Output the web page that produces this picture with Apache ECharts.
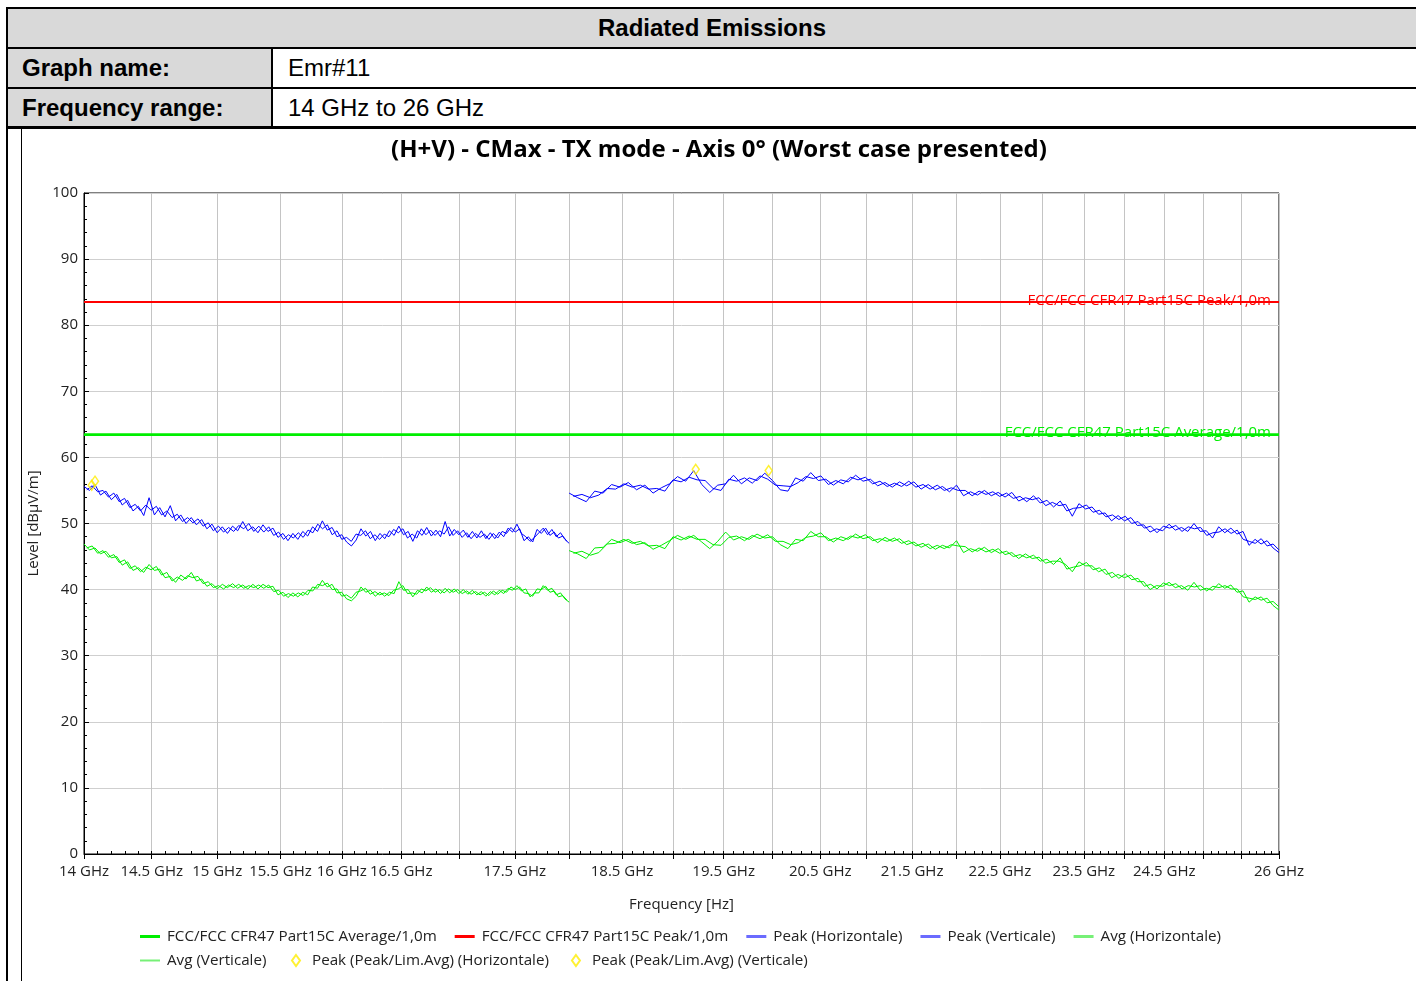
<!DOCTYPE html>
<html><head><meta charset="utf-8">
<script src="https://cdn.jsdelivr.net/npm/echarts@6/dist/echarts.min.js"></script>
<style>
html,body{margin:0;padding:0;background:#fff;width:1416px;height:981px;overflow:hidden;}
#page{position:relative;width:1416px;height:981px;}
.blk{position:absolute;background:#000;}
.cell{position:absolute;font-family:"Liberation Sans",Arial,sans-serif;font-size:24px;color:#000;line-height:38px;height:38px;white-space:nowrap;}
.gray{background:#d9d9d9;}
.b{font-weight:bold;}
#chart{position:absolute;left:22px;top:129px;width:1394px;height:852px;}
</style></head>
<body><div id="page">
  <div class="cell gray b" style="left:8px;top:9px;width:1408px;text-align:center;">Radiated Emissions</div>
  <div class="cell gray b" style="left:8px;top:49px;width:263px;padding-left:14px;box-sizing:border-box;">Graph name:</div>
  <div class="cell" style="left:288px;top:49px;">Emr#11</div>
  <div class="cell gray b" style="left:8px;top:89px;width:263px;padding-left:14px;box-sizing:border-box;">Frequency range:</div>
  <div class="cell" style="left:288px;top:89px;">14 GHz to 26 GHz</div>
  <div class="blk" style="left:6px;top:7px;width:1410px;height:2px;"></div>
  <div class="blk" style="left:6px;top:47px;width:1410px;height:2px;"></div>
  <div class="blk" style="left:6px;top:87px;width:1410px;height:2px;"></div>
  <div class="blk" style="left:6px;top:126px;width:1410px;height:3px;"></div>
  <div class="blk" style="left:271px;top:49px;width:2px;height:78px;"></div>
  <div class="blk" style="left:6px;top:7px;width:2px;height:974px;"></div>
  <div class="blk" style="left:21px;top:129px;width:1px;height:852px;"></div>
  <div id="chart"></div>
</div>
<script>
// ---- data ----
// measurement sweeps (GHz); the vertical-polarisation sweep is interleaved with the horizontal one
const sweepHSeg1 = {startGHz: 14, stepGHz: 0.04, points: 101};
const sweepHSeg2 = {startGHz: 18, stepGHz: 0.08, points: 101};
const sweepVSeg1 = {startGHz: 14.02, stepGHz: 0.0396, points: 101};
const sweepVSeg2 = {startGHz: 18.04, stepGHz: 0.0796, points: 101};

// Peak (Horizontale)
const peakHSeg1 = [55.6,55.0,55.9,54.3,54.9,53.6,54.4,52.8,53.5,51.9,
 52.6,51.2,53.9,51.3,52.4,51.0,52.7,50.4,51.3,50.0,
 50.9,49.8,50.6,49.2,49.9,48.6,49.5,48.5,49.6,48.9,
 50.3,48.9,49.5,48.6,49.8,48.8,49.3,47.9,48.5,47.4,
 48.5,47.6,48.8,48.1,49.5,48.8,50.4,49.0,49.4,48.0,
 48.3,47.2,46.6,47.5,49.2,48.1,48.8,47.4,48.5,47.7,
 48.9,48.2,49.6,48.3,48.8,47.3,48.9,48.2,49.4,48.1,
 49.0,48.0,50.3,48.1,49.1,48.3,49.0,47.9,48.8,47.8,
 48.9,47.7,48.6,47.7,48.7,48.0,49.3,48.7,49.9,48.5,
 48.0,47.3,47.9,48.6,49.3,48.3,49.1,48.0,48.6,47.6,
 47.0];
const peakHSeg2 = [54.6,53.9,53.3,54.9,54.6,55.9,55.5,56.2,55.1,55.8,
 54.6,55.4,56.0,57.1,56.4,58.0,55.9,54.7,55.8,56.0,
 57.3,56.0,56.9,56.5,57.6,56.5,55.1,54.9,56.9,56.4,
 57.7,56.5,56.7,55.8,56.6,56.3,57.3,56.4,56.7,55.7,
 56.2,55.5,56.3,55.7,56.3,55.2,55.9,55.1,55.6,54.8,
 55.8,54.2,54.8,54.3,55.0,54.2,54.7,54.0,54.7,53.4,
 53.9,53.6,53.9,52.7,53.2,52.7,52.9,51.1,53.0,52.2,
 52.5,51.4,51.6,50.4,51.2,50.4,50.9,49.7,49.8,48.7,
 49.2,48.9,49.9,49.0,49.4,48.8,50.0,48.8,48.9,47.8,
 49.5,48.6,49.3,48.4,48.8,46.7,47.6,46.9,47.4,46.3,
 45.6];
// Peak (Verticale)
const peakVSeg1 = [55.1,55.7,54.8,55.0,54.0,54.6,53.3,53.8,52.4,52.9,
 51.9,52.8,52.0,52.6,51.3,51.9,50.9,51.4,50.3,50.9,
 50.1,50.7,49.6,50.1,48.9,49.6,48.7,49.4,48.8,49.7,
 49.2,50.0,48.8,49.6,48.7,49.5,48.2,48.7,47.6,48.3,
 47.8,48.6,47.9,49.0,48.6,49.9,49.2,49.8,48.3,48.9,
 47.6,47.9,47.3,48.4,48.2,48.9,47.7,48.3,47.6,48.4,
 48.0,49.1,48.6,49.2,47.8,48.4,47.8,49.2,48.3,49.0,
 48.2,48.9,48.4,49.5,48.2,48.9,47.9,48.6,47.7,48.5,
 47.9,48.4,47.6,48.5,47.8,48.8,48.5,49.4,48.7,49.2,
 47.4,48.0,47.2,49.1,48.5,49.3,48.2,48.7,47.8,48.1,
 47.3];
const peakVSeg2 = [54.1,54.4,53.9,54.3,55.3,55.2,56.0,55.5,55.8,55.2,
 55.3,54.9,56.6,56.3,57.0,56.6,56.5,55.3,55.0,56.7,
 56.4,56.9,56.1,57.2,56.7,55.8,55.7,55.6,56.2,57.1,
 56.8,57.2,55.9,56.5,56.0,57.0,56.6,57.0,56.0,56.4,
 55.6,56.1,55.6,56.4,55.5,55.9,55.2,55.8,55.0,55.4,
 55.0,55.0,54.2,54.9,54.4,54.8,54.1,54.6,53.8,54.1,
 53.3,54.2,53.1,53.5,52.5,53.4,51.9,52.3,52.4,52.8,
 51.7,52.0,51.0,51.3,50.6,51.1,50.0,50.3,49.3,49.6,
 48.6,49.6,49.3,49.7,48.8,49.5,49.2,49.4,48.2,48.6,
 48.7,49.2,48.5,49.0,47.6,47.3,47.0,47.7,46.6,46.9,
 46.0];
// Avg (Horizontale)
const avgHSeg1 = [46.9,46.0,46.3,45.4,45.8,44.8,45.0,43.7,44.2,42.9,
 43.3,42.6,43.8,42.9,43.1,41.8,42.0,41.1,42.2,41.6,
 42.6,41.3,41.6,40.5,40.9,40.1,40.8,40.3,40.9,40.2,
 40.7,40.1,40.8,40.1,40.8,40.3,40.5,39.2,39.6,38.8,
 39.5,38.9,39.6,39.2,40.4,40.2,41.4,40.4,40.8,39.5,
 39.6,38.6,38.3,39.0,40.4,39.6,39.9,39.0,39.6,39.0,
 39.6,39.4,41.2,39.9,40.0,38.9,39.9,39.5,40.4,39.6,
 40.1,39.4,40.2,39.5,40.1,39.4,40.0,39.3,39.9,39.2,
 39.7,39.0,39.7,39.2,39.9,39.4,40.2,39.9,40.6,39.8,
 40.1,38.9,39.5,39.5,40.6,39.9,40.2,39.2,39.5,38.6,
 38.1];
const avgHSeg2 = [45.9,45.4,44.7,46.3,46.4,47.6,47.1,47.6,46.8,47.1,
 46.1,46.7,47.4,48.2,47.6,48.2,47.2,46.2,47.3,48.7,
 47.5,48.0,47.6,48.4,47.8,48.0,46.8,46.2,47.6,47.4,
 48.8,48.0,48.0,47.2,48.0,47.6,48.4,47.7,48.0,47.1,
 47.9,47.3,47.7,46.8,47.2,46.4,46.9,46.1,46.7,46.3,
 47.4,45.6,46.2,45.8,46.4,45.6,46.2,45.3,45.6,44.7,
 45.4,44.7,44.9,44.0,44.3,44.3,43.8,42.7,44.2,43.6,
 43.6,42.7,43.1,41.8,42.3,41.8,42.2,41.2,41.2,40.0,
 40.6,40.5,41.1,40.3,40.6,39.9,41.1,39.9,40.2,39.9,
 40.9,40.2,40.7,39.6,39.8,38.1,38.9,38.4,38.7,37.6,
 36.9];
// Avg (Verticale)
const avgVSeg1 = [46.3,46.6,45.5,45.9,44.9,45.3,44.1,44.5,43.2,43.6,
 42.7,43.4,43.0,43.5,42.2,42.6,41.3,41.9,41.4,42.1,
 41.8,42.0,40.9,41.2,40.3,40.6,40.1,40.7,40.3,40.8,
 40.2,40.6,40.3,40.7,40.2,40.7,39.7,39.9,39.0,39.4,
 39.0,39.5,39.1,39.9,39.8,40.8,40.6,41.0,40.0,40.1,
 39.0,39.2,38.7,39.6,39.8,40.2,39.3,39.7,39.2,39.5,
 39.1,39.9,40.1,40.6,39.4,39.5,39.3,40.1,39.8,40.3,
 39.6,40.0,39.5,40.1,39.6,40.0,39.4,39.8,39.3,39.7,
 39.2,39.6,39.1,39.8,39.3,39.9,39.6,40.4,40.0,40.4,
 39.5,39.4,39.0,40.1,40.0,40.5,39.6,39.8,38.9,39.1,
 38.4];
const avgVSeg2 = [45.5,45.8,45.2,45.6,46.9,47.0,47.6,47.0,47.3,46.6,
 46.7,46.2,48.0,47.5,48.1,47.6,47.6,46.8,46.7,47.9,
 48.1,47.4,48.2,47.7,48.3,47.3,47.3,46.8,47.1,47.9,
 48.1,48.6,47.4,47.8,47.4,48.1,47.8,48.3,47.4,47.7,
 47.3,47.8,47.0,47.4,46.6,47.0,46.2,46.7,46.2,46.8,
 46.6,46.5,45.7,46.3,45.7,46.1,45.5,45.8,45.0,45.3,
 44.8,45.2,44.3,44.6,43.8,44.8,43.1,43.4,43.6,44.1,
 43.0,43.3,42.3,42.6,41.7,42.4,41.5,41.7,40.5,40.8,
 40.1,41.0,40.6,40.9,40.1,40.6,40.4,40.6,39.8,40.5,
 40.3,40.6,40.1,40.1,38.9,38.7,38.5,38.9,38.0,38.2,
 37.4];
const bandSplitGHz = 18;

const limitAvgName = 'FCC/FCC CFR47 Part15C Average/1,0m';
const limitPeakName = 'FCC/FCC CFR47 Part15C Peak/1,0m';
const limitFreqs = [14, 26];
const limitAvgLevels = [63.5, 63.5];
const limitPeakLevels = [83.5, 83.5];

const markerFreqH = [14.08, 19.22];
const markerLevelH = [56.4, 58.2];
const markerFreqV = [14.056, 19.96];
const markerLevelV = [55.8, 58.0];

const xMajorTicks = [14,14.5,15,15.5,16,16.5,17,17.5,18,18.5,19,19.5,20,20.5,21,21.5,22,22.5,23,23.5,24,24.5,25,25.5,26];
const xLabelTicks = [14,14.5,15,15.5,16,16.5,17.5,18.5,19.5,20.5,21.5,22.5,23.5,24.5,26];
const xMinorStepGHz = 0.1;

// ---- build ----
function sweep(s){const out=[];for(let i=0;i<s.points;i++)out.push(+(s.startGHz+i*s.stepGHz).toFixed(4));return out;}
function pairs(fs, vs){return fs.map((f,i)=>[f, vs[i]]);}
function joined(s1, s2, a, b){return pairs(sweep(s1), a).concat([[bandSplitGHz,'-']], pairs(sweep(s2), b));}
const minorTicks = [];
for (let v = 14; v <= 26.0001; v += xMinorStepGHz) minorTicks.push(+v.toFixed(2));

const FONT = '"Open Sans", sans-serif';
const TXT = '#222';
const GREEN = '#00ee00', RED = '#ff0000', BLUE = '#0000ff';
const chart = echarts.init(document.getElementById('chart'), null, {renderer:'canvas'});

function limitSeries(name, levels, color){
  return {
    name, type:'line', xAxisIndex:0, data: pairs(limitFreqs, levels), showSymbol:false, symbol:'none',
    color, lineStyle:{color, width:2}, z:3, silent:true,
    markLine:{silent:true, symbol:'none', animation:false, lineStyle:{color, width:2, type:'solid'},
      label:{show:true, position:'insideEndTop', formatter: name, color, fontFamily:FONT, fontSize:15, distance:[8,-6]},
      data:[{yAxis: levels[0]}]}
  };
}
function traceSeries(name, data, color){
  return {name, type:'line', xAxisIndex:0, data, showSymbol:false, symbol:'none', connectNulls:false,
    color, lineStyle:{color, width:1}, sampling:null, z:2, silent:true};
}
function markerSeries(name, fs, vs){
  return {name, type:'scatter', xAxisIndex:0, data: pairs(fs, vs), symbol:'diamond', symbolSize:[7,10],
    itemStyle:{color:'rgba(255,255,255,0)', borderColor:'#ffee00', borderWidth:1.5}, z:5, silent:true};
}

const legText = {fontFamily:FONT, fontSize:15.2, color:TXT, padding:[0,0,0,2]};
const legBase = {padding:0, itemGap:18, itemWidth:20, textStyle:legText, selectedMode:false, icon:'rect'};

chart.setOption({
  animation:false,
  backgroundColor:'#fff',
  textStyle:{fontFamily:FONT},
  title:{text:'(H+V) - CMax - TX mode - Axis 0° (Worst case presented)', left:'center', top:4,
    textStyle:{fontFamily:FONT, fontWeight:'bold', fontSize:24, color:'#000'}},
  grid:{left:62, right:137, top:64, bottom:127, show:true, borderColor:'#000', borderWidth:1, outerBoundsMode:'none', containLabel:false},
  legend:[
    Object.assign({}, legBase, {left:118, top:800, itemHeight:3, data:[
      {name:limitAvgName}, {name:limitPeakName},
      {name:'Peak (Horizontale)', itemStyle:{color:'#6b6bff'}}, {name:'Peak (Verticale)', itemStyle:{color:'#6b6bff'}},
      {name:'Avg (Horizontale)', itemStyle:{color:'#77f077'}}]}),
    Object.assign({}, legBase, {left:118, top:824, itemHeight:2, data:[{name:'Avg (Verticale)', itemStyle:{color:'#77f077'}}]}),
    Object.assign({}, legBase, {left:269, top:824, itemWidth:8, itemHeight:11, itemGap:22, icon:'diamond',
      textStyle:Object.assign({}, legText, {padding:[0,0,0,7]}), data:[
      'Peak (Peak/Lim.Avg) (Horizontale)', 'Peak (Peak/Lim.Avg) (Verticale)']})
  ],
  xAxis:[{
    type:'log', logBase:10, min:14, max:26, position:'bottom',
    name:'Frequency [Hz]', nameLocation:'middle', nameGap:43,
    nameTextStyle:{fontFamily:FONT, fontSize:15, color:TXT},
    axisLine:{show:true, lineStyle:{color:'#000', width:1}},
    axisTick:{show:true, customValues:xMajorTicks, length:5, lineStyle:{color:'#000'}},
    axisLabel:{customValues:xLabelTicks, formatter:v=>v+' GHz', fontFamily:FONT, fontSize:15, color:TXT, margin:10, hideOverlap:false},
    splitLine:{show:true, lineStyle:{color:'#c4c4c4', width:1}}
  },{
    type:'log', logBase:10, min:14, max:26, position:'bottom',
    axisLine:{show:false}, axisLabel:{show:false}, splitLine:{show:false},
    axisTick:{show:true, customValues:minorTicks, inside:true, length:3, lineStyle:{color:'#000'}}
  }],
  yAxis:{
    type:'value', min:0, max:100, interval:10,
    name:'Level [dBµV/m]', nameLocation:'middle', nameGap:38,
    nameTextStyle:{fontFamily:FONT, fontSize:15, color:TXT},
    axisLine:{show:true, lineStyle:{color:'#000'}},
    axisTick:{show:true, inside:true, length:5, lineStyle:{color:'#000'}},
    minorTick:{show:true, splitNumber:5, length:3, lineStyle:{color:'#000'}},
    axisLabel:{fontFamily:FONT, fontSize:15, color:TXT, margin:6},
    splitLine:{show:true, lineStyle:{color:'#cfcfcf', width:1}}
  },
  series:[
    limitSeries(limitAvgName, limitAvgLevels, GREEN),
    limitSeries(limitPeakName, limitPeakLevels, RED),
    traceSeries('Peak (Horizontale)', joined(sweepHSeg1, sweepHSeg2, peakHSeg1, peakHSeg2), BLUE),
    traceSeries('Peak (Verticale)', joined(sweepVSeg1, sweepVSeg2, peakVSeg1, peakVSeg2), BLUE),
    traceSeries('Avg (Horizontale)', joined(sweepHSeg1, sweepHSeg2, avgHSeg1, avgHSeg2), GREEN),
    traceSeries('Avg (Verticale)', joined(sweepVSeg1, sweepVSeg2, avgVSeg1, avgVSeg2), GREEN),
    markerSeries('Peak (Peak/Lim.Avg) (Horizontale)', markerFreqH, markerLevelH),
    markerSeries('Peak (Peak/Lim.Avg) (Verticale)', markerFreqV, markerLevelV)
  ]
});
</script></body></html>
